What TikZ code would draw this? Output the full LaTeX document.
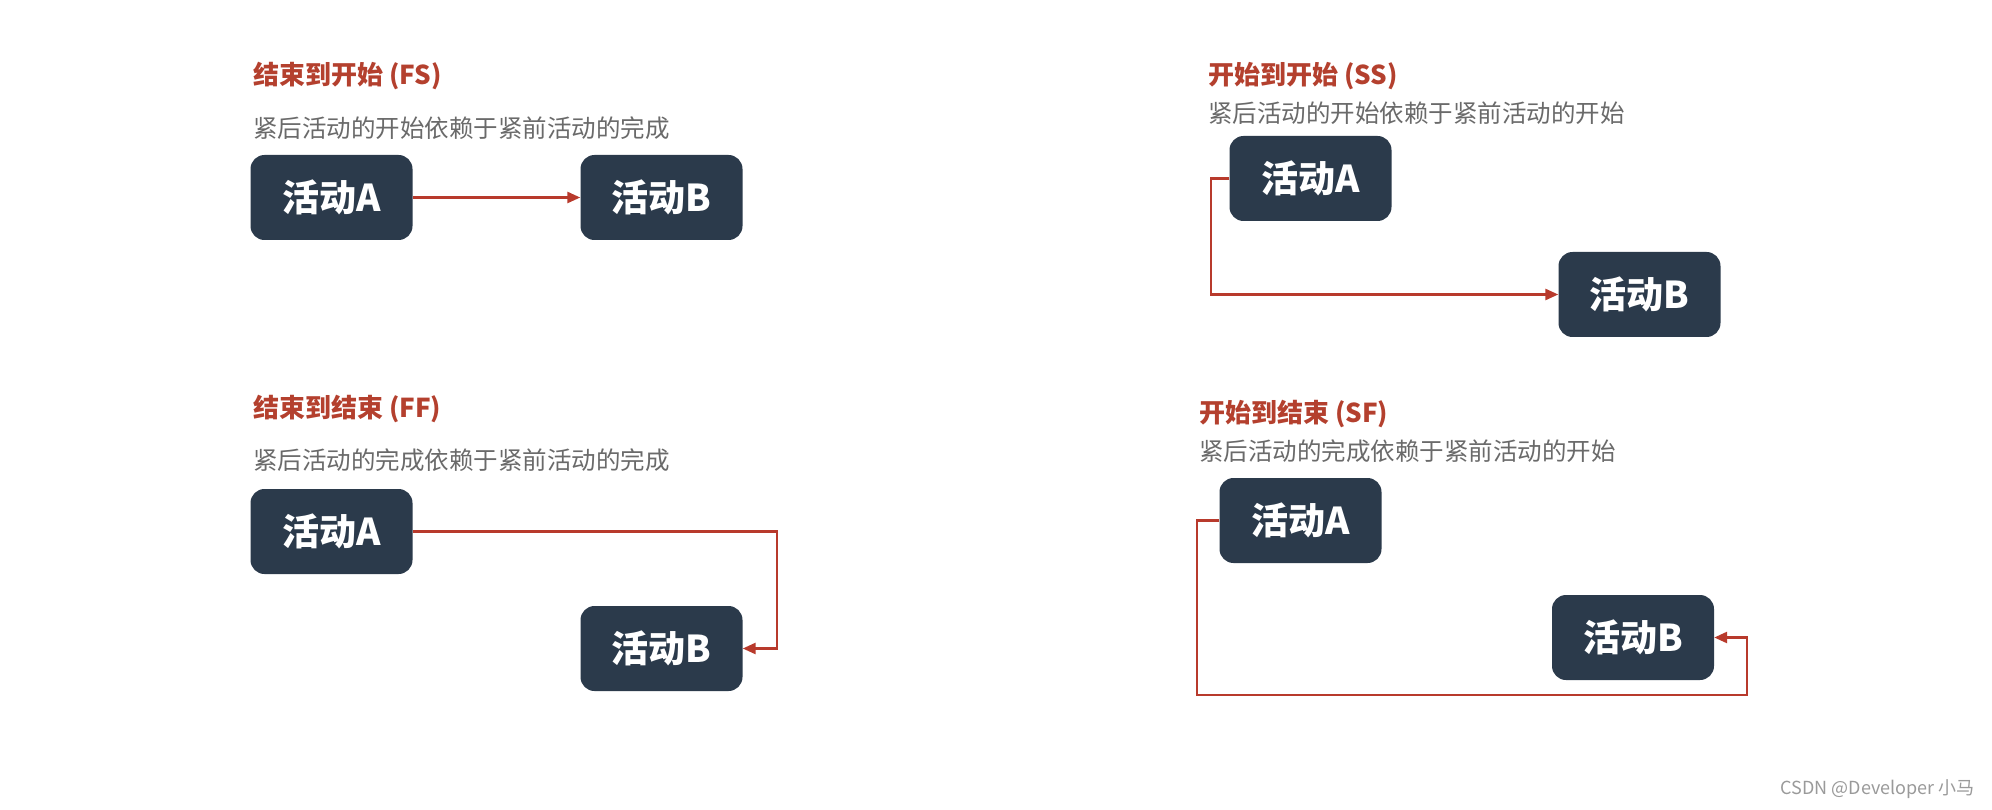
\documentclass[tikz,border=0pt]{standalone}
\usepackage{fontspec}
\setmainfont{Noto Sans CJK SC}
\usetikzlibrary{arrows.meta}
\definecolor{boxc}{HTML}{2B3A4B}
\definecolor{arr}{HTML}{B83A2C}
\definecolor{ttl}{HTML}{B4402E}
\definecolor{subc}{HTML}{6A6A6A}
\definecolor{wm}{HTML}{9A9A9A}
\tikzset{
  act/.style={fill=boxc, text=white, rounded corners=14pt, minimum width=162pt, minimum height=85pt, inner sep=0pt,
    font=\fontsize{37}{40}\selectfont\bfseries},
  ttlnode/.style={anchor=west, inner sep=0pt, text=ttl, font=\fontsize{26}{30}\selectfont\bfseries},
  subnode/.style={anchor=west, inner sep=0pt, text=subc, font=\fontsize{24.5}{28}\selectfont},
  link/.style={draw=arr, line width=2.6pt, -{Triangle[length=13pt,width=11pt]}}
}
\begin{document}
\begin{tikzpicture}[x=1pt,y=-1pt]
\useasboundingbox (0,0) rectangle (1992,810);
\fill[white] (0,0) rectangle (1992,810);
% FS
\node[ttlnode] (t1) at (253,76) {结束到开始 (FS)};
\node[subnode] (s1) at (253,128) {紧后活动的开始依赖于紧前活动的完成};
\node[act] (fa) at (331.5,197.5) {活动A};
\node[act] (fb) at (661.5,197.5) {活动B};
\draw[link] (fa.east) -- (fb.west);
% SS
\node[ttlnode] (t2) at (1208,76) {开始到开始 (SS)};
\node[subnode] (s2) at (1208,113) {紧后活动的开始依赖于紧前活动的开始};
\node[act] (sa) at (1310.5,178.5) {活动A};
\node[act] (sb) at (1639.5,294.5) {活动B};
\draw[link] (sa.west) -- (1211,178.5) |- (sb.west);
% FF
\node[ttlnode] (t3) at (253,409) {结束到结束 (FF)};
\node[subnode] (s3) at (253,460) {紧后活动的完成依赖于紧前活动的完成};
\node[act] (ea) at (331.5,531.5) {活动A};
\node[act] (eb) at (661.5,648.5) {活动B};
\draw[link] (ea.east) -- (777,531.5) |- (eb.east);
% SF
\node[ttlnode] (t4) at (1199,414) {开始到结束 (SF)};
\node[subnode] (s4) at (1199,451) {紧后活动的完成依赖于紧前活动的开始};
\node[act] (ga) at (1300.5,520.5) {活动A};
\node[act] (gb) at (1633,637.5) {活动B};
\coordinate (c1) at (1197,695);
\coordinate (c2) at (1747,695);
\draw[link] (ga.west) -- (1197,520.5) -- (c1) -- (c2) |- (gb.east);
% watermark
\node[anchor=east, inner sep=0pt, text=wm, font=\fontsize{18}{20}\selectfont] (w) at (1975,789) {CSDN @Developer 小马};
\end{tikzpicture}
\end{document}
